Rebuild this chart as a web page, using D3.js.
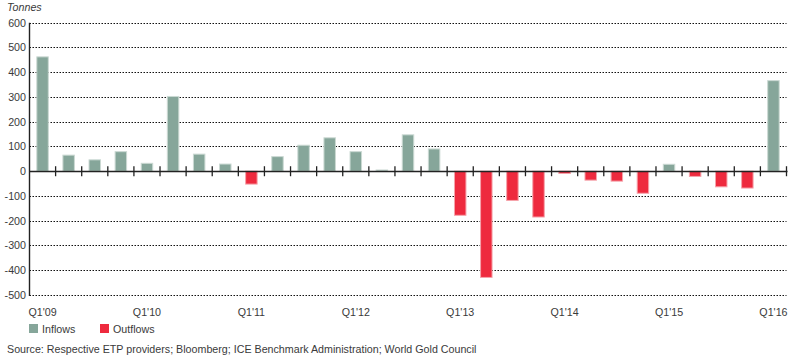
<!DOCTYPE html>
<html><head><meta charset="utf-8">
<script src="https://cdn.jsdelivr.net/npm/d3@7/dist/d3.min.js"></script>
<style>
body{margin:0;background:#fff;}
svg text{font-family:"Liberation Sans",Arial,sans-serif;fill:#3a3a3a;}
</style></head>
<body><svg id="c" width="796" height="360"></svg>
<script>
const quarters = ["Q1'09","Q2'09","Q3'09","Q4'09","Q1'10","Q2'10","Q3'10","Q4'10",
"Q1'11","Q2'11","Q3'11","Q4'11","Q1'12","Q2'12","Q3'12","Q4'12",
"Q1'13","Q2'13","Q3'13","Q4'13","Q1'14","Q2'14","Q3'14","Q4'14",
"Q1'15","Q2'15","Q3'15","Q4'15","Q1'16"];
const flows = [462,65,46,79,32,302,69,29,
-52,59,105,135,79,5,147,90,
-178,-429,-118,-185,-9,-36,-40,-89,
28,-21,-63,-68,366];
const yTicks = [600,500,400,300,200,100,0,-100,-200,-300,-400,-500];
const xLabels = ["Q1'09","Q1'10","Q1'11","Q1'12","Q1'13","Q1'14","Q1'15","Q1'16"];
const seriesNames = ["Inflows","Outflows"];
const colors = {Inflows:"#86a69a", Outflows:"#ee2a3e"};
const strokes = {Inflows:"#cbd9d3", Outflows:"#f6a3ab"};

const svg = d3.select("#c");
const pL = 29.5, pR = 786.5, pT = 22.7, pB = 295;
const x = d3.scaleBand().domain(quarters).range([pL, pR]).paddingInner(0.56).paddingOuter(0.28);
const y = d3.scaleLinear().domain([-500,600]).range([pB, pT]);

// gridlines
svg.append("g").selectAll("line").data(yTicks.filter(d=>d!==0)).join("line")
  .attr("x1", pL).attr("x2", pR)
  .attr("y1", d=>Math.round(y(d))+0.5).attr("y2", d=>Math.round(y(d))+0.5)
  .attr("stroke","#111").attr("stroke-width",1.2).attr("stroke-dasharray","1.5,1.5");

// y labels
svg.append("g").selectAll("text").data(yTicks).join("text")
  .attr("x", 26).attr("y", d=>y(d)+4)
  .attr("text-anchor","end").attr("font-size",10.7).text(d=>d);

// bars
svg.append("g").selectAll("rect").data(flows).join("rect")
  .attr("x",(d,i)=>x(quarters[i]))
  .attr("width", x.bandwidth())
  .attr("y", d=> d>=0 ? y(d) : y(0))
  .attr("height", d=> Math.abs(y(d)-y(0)))
  .attr("fill", d=> d>=0 ? colors.Inflows : colors.Outflows)
  .attr("stroke", d=> d>=0 ? strokes.Inflows : strokes.Outflows)
  .attr("stroke-width",1);

// zero line and y axis
svg.append("line").attr("x1",pL).attr("x2",pR+1).attr("y1",Math.round(y(0))+0.5).attr("y2",Math.round(y(0))+0.5)
  .attr("stroke","#222").attr("stroke-width",1.6);
svg.append("line").attr("x1",pL).attr("x2",pL).attr("y1",pT).attr("y2",pB+1)
  .attr("stroke","#222").attr("stroke-width",1.4);

// x ticks at band boundaries
const bounds = quarters.map((q,i) => x(q) + x.bandwidth()/2 + x.step()/2);
svg.append("g").selectAll("line").data(bounds).join("line")
  .attr("x1",d=>d).attr("x2",d=>d)
  .attr("y1", y(0)-5).attr("y2", y(0)+5)
  .attr("stroke","#222").attr("stroke-width",1.3);

// x labels
svg.append("g").selectAll("text").data(xLabels).join("text")
  .attr("x", d=> x(d)+x.bandwidth()/2)
  .attr("y", 316).attr("text-anchor","middle").attr("font-size",10.7).text(d=>d);

// Title
svg.append("text").attr("x",7).attr("y",11).attr("font-size",10.7).attr("font-style","italic").text("Tonnes");

// legend
const lg = svg.append("g");
const legX = [29, 100];
seriesNames.forEach((s,i)=>{
  lg.append("rect").attr("x",legX[i]).attr("y",324).attr("width",9).attr("height",9).attr("fill",colors[s]);
  lg.append("text").attr("x",legX[i]+13).attr("y",333).attr("font-size",10.7).text(s);
});

svg.append("text").attr("x",7).attr("y",353).attr("font-size",10.7)
  .text("Source: Respective ETP providers; Bloomberg; ICE Benchmark Administration; World Gold Council");
</script></body></html>
